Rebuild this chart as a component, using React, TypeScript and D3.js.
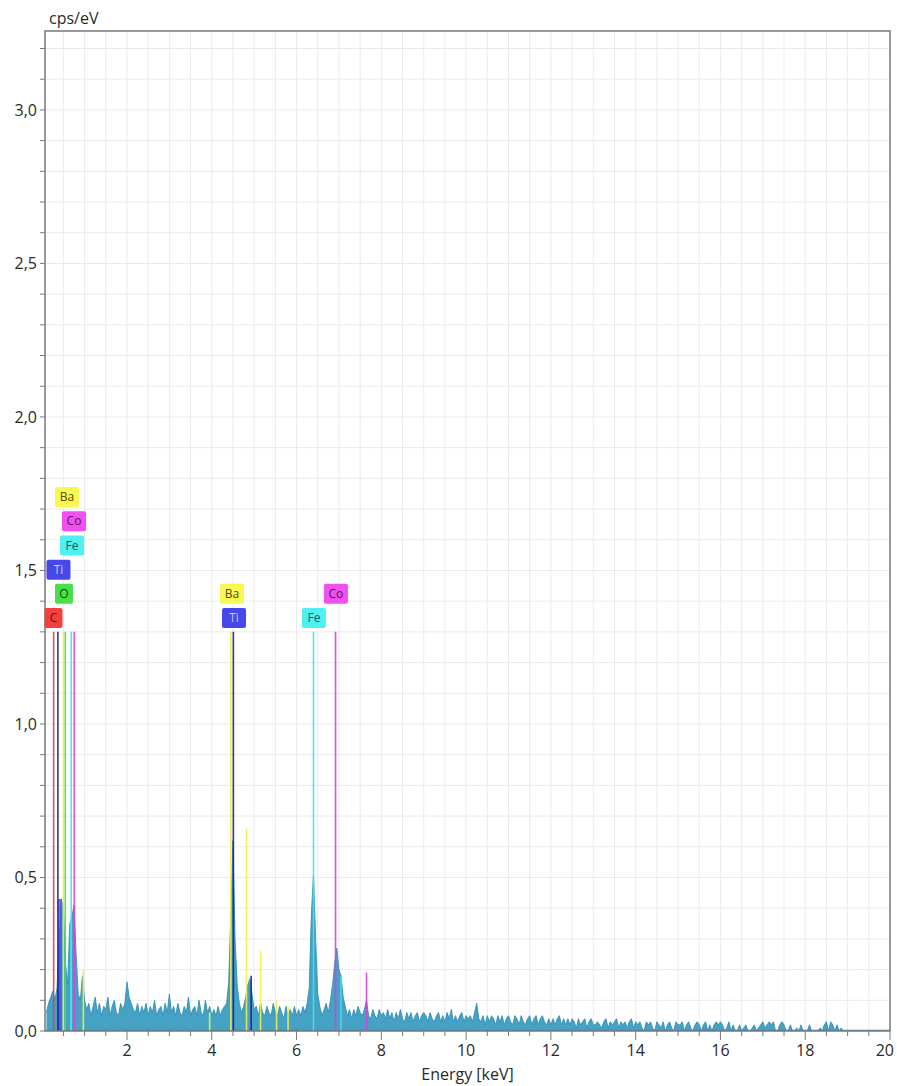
import React from "react";
import * as d3 from "d3";

// EDS spectrum, bins of 0.05 keV starting at 0.10 keV (cps/eV)
const E0 = 0.1;
const STEP = 0.05;
const counts = [
  // 0.10 - 1.00
  0.06, 0.09, 0.11, 0.13, 0.10, 0.14, 0.30, 0.43, 0.40, 0.22, 0.15, 0.35, 0.37, 0.41, 0.25, 0.12, 0.10, 0.18, 0.10,
  // 1.05 - 2.00
  0.07, 0.09, 0.05, 0.08, 0.11, 0.06, 0.09, 0.05, 0.08, 0.07, 0.11, 0.05, 0.08, 0.10, 0.06, 0.05, 0.09, 0.07, 0.09, 0.16,
  // 2.05 - 3.00
  0.11, 0.09, 0.07, 0.06, 0.09, 0.05, 0.08, 0.06, 0.09, 0.05, 0.08, 0.06, 0.10, 0.05, 0.07, 0.08, 0.05, 0.09, 0.06, 0.12,
  // 3.05 - 4.00
  0.06, 0.08, 0.05, 0.09, 0.06, 0.05, 0.08, 0.06, 0.11, 0.05, 0.07, 0.08, 0.05, 0.10, 0.06, 0.05, 0.10, 0.06, 0.08, 0.05,
  // 4.05 - 5.00
  0.07, 0.05, 0.08, 0.05, 0.07, 0.08, 0.09, 0.16, 0.38, 0.62, 0.30, 0.15, 0.09, 0.06, 0.08, 0.11, 0.15, 0.17, 0.12, 0.07,
  // 5.05 - 6.00
  0.08, 0.05, 0.09, 0.06, 0.05, 0.08, 0.06, 0.05, 0.09, 0.06, 0.05, 0.08, 0.06, 0.04, 0.08, 0.05, 0.07, 0.05, 0.08, 0.05,
  // 6.05 - 7.00
  0.07, 0.05, 0.08, 0.06, 0.09, 0.14, 0.38, 0.51, 0.30, 0.12, 0.08, 0.05, 0.07, 0.09, 0.06, 0.10, 0.15, 0.22, 0.27, 0.20,
  // 7.05 - 8.00
  0.18, 0.11, 0.08, 0.05, 0.07, 0.04, 0.07, 0.05, 0.08, 0.06, 0.05, 0.07, 0.10, 0.05, 0.04, 0.07, 0.05, 0.04, 0.07, 0.05,
  // 8.05 - 9.00
  0.06, 0.04, 0.07, 0.04, 0.06, 0.03, 0.06, 0.04, 0.07, 0.04, 0.03, 0.06, 0.04, 0.06, 0.03, 0.05, 0.06, 0.03, 0.05, 0.06,
  // 9.05 - 10.00
  0.05, 0.03, 0.06, 0.04, 0.03, 0.05, 0.06, 0.03, 0.05, 0.03, 0.06, 0.04, 0.07, 0.03, 0.05, 0.03, 0.05, 0.06, 0.03, 0.05,
  // 10.05 - 11.00
  0.04, 0.05, 0.03, 0.06, 0.09, 0.04, 0.03, 0.05, 0.02, 0.05, 0.03, 0.05, 0.04, 0.02, 0.05, 0.03, 0.05, 0.02, 0.04, 0.05,
  // 11.05 - 12.00
  0.03, 0.02, 0.05, 0.04, 0.02, 0.05, 0.03, 0.02, 0.04, 0.05, 0.02, 0.04, 0.05, 0.02, 0.04, 0.05, 0.03, 0.02, 0.04, 0.02,
  // 12.05 - 13.00
  0.04, 0.02, 0.04, 0.05, 0.02, 0.04, 0.02, 0.04, 0.02, 0.04, 0.03, 0.01, 0.04, 0.02, 0.03, 0.04, 0.01, 0.03, 0.04, 0.02,
  // 13.05 - 14.00
  0.02, 0.03, 0.02, 0.01, 0.03, 0.04, 0.01, 0.03, 0.02, 0.03, 0.04, 0.01, 0.03, 0.02, 0.03, 0.01, 0.03, 0.04, 0.01, 0.03,
  // 14.05 - 15.00
  0.02, 0.03, 0.01, 0.0, 0.03, 0.02, 0.03, 0.01, 0.0, 0.03, 0.02, 0.01, 0.03, 0.0, 0.02, 0.03, 0.01, 0.0, 0.03, 0.02,
  // 15.05 - 16.00
  0.02, 0.03, 0.0, 0.02, 0.03, 0.01, 0.0, 0.02, 0.03, 0.02, 0.0, 0.02, 0.03, 0.0, 0.02, 0.0, 0.02, 0.03, 0.02, 0.03,
  // 16.05 - 17.00
  0.02, 0.0, 0.01, 0.03, 0.0, 0.02, 0.0, 0.0, 0.02, 0.0, 0.01, 0.02, 0.0, 0.0, 0.01, 0.02, 0.0, 0.01, 0.02, 0.03,
  // 17.05 - 18.00
  0.01, 0.02, 0.03, 0.02, 0.03, 0.0, 0.0, 0.02, 0.03, 0.02, 0.0, 0.0, 0.02, 0.0, 0.0, 0.01, 0.0, 0.02, 0.0, 0.0,
  // 18.05 - 19.00
  0.0, 0.02, 0.0, 0.0, 0.0, 0.0, 0.01, 0.0, 0.02, 0.03, 0.0, 0.03, 0.02, 0.0, 0.02, 0.0, 0.01, 0.0, 0.0, 0.0,
];

// element marker lines: [element, energy keV, height cps/eV]
const markerLines: [string, number, number][] = [
  ["C", 0.27, 1.3],
  ["Ti", 0.37, 1.3],
  ["Ba", 0.5, 1.3],
  ["O", 0.545, 1.3],
  ["Fe", 0.685, 1.3],
  ["Co", 0.757, 1.3],
  ["Ba", 0.97, 0.2],
  ["Ba", 3.95, 0.06],
  ["Ba", 4.45, 1.3],
  ["Ti", 4.51, 1.3],
  ["Ba", 4.82, 0.66],
  ["Ti", 4.93, 0.18],
  ["Ba", 5.15, 0.26],
  ["Ba", 5.53, 0.1],
  ["Ba", 5.8, 0.08],
  ["Fe", 6.4, 1.3],
  ["Co", 6.92, 1.3],
  ["Fe", 7.05, 0.18],
  ["Co", 7.65, 0.19],
];

// coloured peak areas: [element, from keV, to keV, height]
const peakFills: [string, number, number, number][] = [
  ["Ti", 0.37, 0.46, 0.43],
  ["Fe", 0.66, 0.7, 0.37],
  ["Co", 0.74, 0.78, 0.41],
];

// label boxes: [element, energy keV, stack level]
const labels: [string, number, number][] = [
  ["C", 0.267, 0],
  ["O", 0.514, 1],
  ["Ti", 0.384, 2],
  ["Fe", 0.703, 3],
  ["Co", 0.75, 4],
  ["Ba", 0.585, 5],
  ["Ti", 4.525, 0],
  ["Ba", 4.478, 1],
  ["Fe", 6.41, 0],
  ["Co", 6.93, 1],
];

const xTickLabels = [2, 4, 6, 8, 10, 12, 14, 16, 18, 20];
const yTickLabels = [0, 0.5, 1.0, 1.5, 2.0, 2.5, 3.0];

const colors: Record<string, { line: string; box: string; text: string }> = {
  C: { line: "#d04848", box: "#f04040", text: "#701010" },
  O: { line: "#50d850", box: "#48e048", text: "#105010" },
  Ti: { line: "#202098", box: "#4848e8", text: "#c8c8ff" },
  Fe: { line: "#48e0e8", box: "#50f0f0", text: "#106060" },
  Co: { line: "#d840d8", box: "#f050f0", text: "#601060" },
  Ba: { line: "#f0f048", box: "#f8f850", text: "#505010" },
};

const W = 897;
const H = 1086;
const margin = { top: 31, right: 7, bottom: 55, left: 45 };
const font = "'Open Sans', 'Noto Sans', sans-serif";

export default function App() {
  const x = d3.scaleLinear().domain([0.066, 20]).range([margin.left, W - margin.right]);
  const y = d3.scaleLinear().domain([0, 3.257]).range([H - margin.bottom, margin.top]);
  const x0 = margin.left, x1 = W - margin.right, y0 = H - margin.bottom, y1 = margin.top;

  const xGrid = d3.range(0.5, 20.01, 0.5);
  const yGrid = d3.range(0.1, 3.26, 0.1);

  const area = d3
    .area<number>()
    .x((_, i) => x(E0 + i * STEP))
    .y0(y(0))
    .y1((d) => y(d));
  const line = d3
    .line<number>()
    .x((_, i) => x(E0 + i * STEP))
    .y((d) => y(d));

  const labelBase = 1.345;
  const rowH = 24.2;

  return (
    <svg width={W} height={H} style={{ position: "absolute", left: 0, top: 0, background: "#fff" }}>
      <defs>
        <clipPath id="plot">
          <rect x={x0} y={y1} width={x1 - x0} height={y0 - y1} />
        </clipPath>
      </defs>
      <g stroke="#ebebeb" strokeWidth={1}>
        {xGrid.map((v) => (
          <line key={"gx" + v} x1={x(v)} x2={x(v)} y1={y1} y2={y0} />
        ))}
        {yGrid.map((v) => (
          <line key={"gy" + v} x1={x0} x2={x1} y1={y(v)} y2={y(v)} />
        ))}
      </g>
      <g clipPath="url(#plot)">
        <path d={area(counts) || ""} fill="#45a2c5" />
        <path d={line(counts) || ""} fill="none" stroke="#3290b6" strokeWidth={0.9} />
        <line x1={x0} x2={x1} y1={y(0) - 0.5} y2={y(0) - 0.5} stroke="#3591b8" strokeWidth={1.5} />
        {peakFills.map(([el, a, b, h], i) => (
          <rect key={"pf" + i} x={x(a)} width={x(b) - x(a)} y={y(h)} height={y(0) - y(h)} fill={colors[el].box} opacity={0.75} />
        ))}
        {markerLines.map(([el, e, h], i) => (
          <line
            key={"ml" + i}
            x1={x(e)}
            x2={x(e)}
            y1={y(0)}
            y2={y(h)}
            stroke={colors[el].line}
            strokeWidth={1.6}
            opacity={0.9}
          />
        ))}
      </g>
      {/* frame */}
      <rect x={x0} y={y1} width={x1 - x0} height={y0 - y1} fill="none" stroke="#7a7a7a" strokeWidth={1.5} />
      {/* ticks */}
      <g stroke="#7a7a7a" strokeWidth={1}>
        {d3.range(0, 3.26, 0.1).map((v) => (
          <line key={"yt" + v} x1={x0 - 5} x2={x0} y1={y(v)} y2={y(v)} />
        ))}
        {d3.range(0.5, 20.01, 0.5).map((v) => (
          <line key={"xt" + v} x1={x(v)} x2={x(v)} y1={y0} y2={y0 + (v % 2 === 0 ? 9 : 5)} />
        ))}
      </g>
      <g fontFamily={font} fontSize={16} fill="#2a2a2a">
        {yTickLabels.map((v) => (
          <text key={"yl" + v} x={x0 - 8} y={y(v)} dy="0.35em" textAnchor="end">
            {v.toFixed(1).replace(".", ",")}
          </text>
        ))}
        {xTickLabels.map((v, i) => (
          <text
            key={"xl" + v}
            x={i === xTickLabels.length - 1 ? W - 3 : x(v)}
            y={y0 + 25}
            textAnchor={i === xTickLabels.length - 1 ? "end" : "middle"}
          >
            {v}
          </text>
        ))}
        <text x={(x0 + x1) / 2} y={H - 6} textAnchor="middle" fontSize={16}>
          Energy [keV]
        </text>
        <text x={49} y={24} fontSize={16}>
          cps/eV
        </text>
      </g>
      {labels.map(([el, e, lvl], i) => {
        const cy = y(labelBase) - lvl * rowH;
        const w = el.length > 1 ? 24 : 18;
        const cx = x(e);
        return (
          <g key={"lb" + i}>
            <rect x={cx - w / 2} y={cy - 10} width={w} height={20} rx={2} fill={colors[el].box} />
            <text
              x={cx}
              y={cy}
              dy="0.35em"
              textAnchor="middle"
              fontFamily={font}
              fontSize={12}
              fill={colors[el].text}
            >
              {el}
            </text>
          </g>
        );
      })}
    </svg>
  );
}
